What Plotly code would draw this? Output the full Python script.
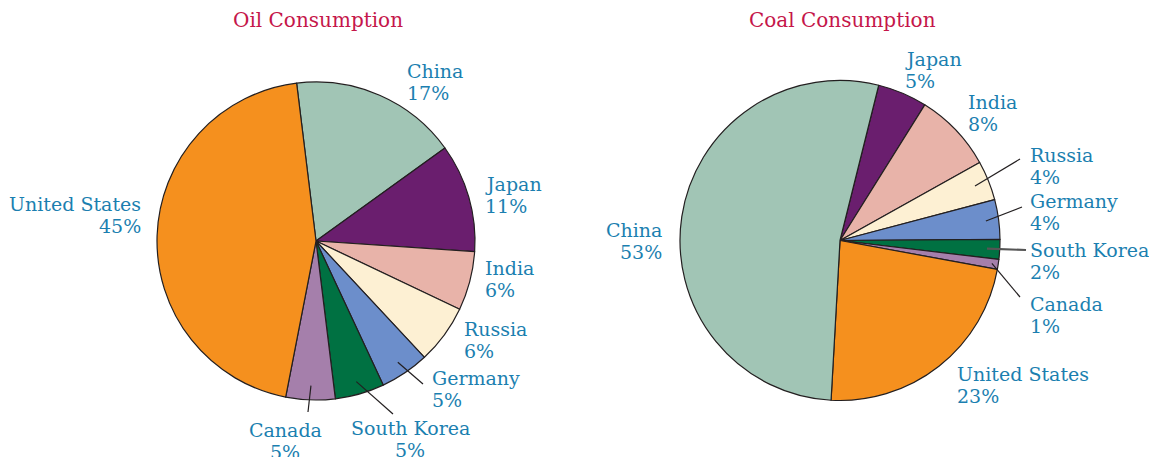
import math
import plotly.graph_objects as go

# ---------------- data ----------------
oil_countries = ["China", "Japan", "India", "Russia", "Germany", "South Korea", "Canada", "United States"]
oil_share = [17, 11, 6, 6, 5, 5, 5, 45]

coal_countries = ["Japan", "India", "Russia", "Germany", "South Korea", "Canada", "United States", "China"]
coal_share = [5, 8, 4, 4, 2, 1, 23, 53]

titles = ["Oil Consumption", "Coal Consumption"]

# ---------------- style ----------------
W, H = 1157, 457
OFF = 8  # page body margin offset
country_colors = {
    "United States": "#f5901e",
    "China": "#a1c5b5",
    "Japan": "#6a1e6e",
    "India": "#e8b3a9",
    "Russia": "#fdf0d3",
    "Germany": "#6c8ecb",
    "South Korea": "#007142",
    "Canada": "#a57fab",
}
LABEL_COLOR = "#1b7fb0"
TITLE_COLOR = "#c5164a"
FONT = "DejaVu Serif"
LINE_GAP = 22

pies = [
    dict(cx=316, cy=241, r=159, rotation=-7),
    dict(cx=840, cy=240.5, r=160, rotation=14),
]

# label placement (pixel): anchor, x, y of first line
oil_label_pos = {
    "China": ("left", 405, 71),
    "Japan": ("left", 483, 184),
    "India": ("left", 483, 268),
    "Russia": ("left", 462, 329),
    "Germany": ("left", 430, 378),
    "South Korea": ("center", 410, 428),
    "Canada": ("center", 285, 430),
    "United States": ("right", 143, 204),
}
coal_label_pos = {
    "Japan": ("left", 903, 59),
    "India": ("left", 966, 102),
    "Russia": ("left", 1028, 155),
    "Germany": ("left", 1028, 201),
    "South Korea": ("left", 1028, 250),
    "Canada": ("left", 1028, 304),
    "United States": ("left", 955, 374),
    "China": ("right", 664, 230),
}
# leader lines: country -> (outer end pixel, inner radius fraction, color, width)
oil_leaders = {
    "Germany": ((423, 384), 0.92, "#231f20", 1.2),
    "South Korea": ((393, 414), 0.92, "#231f20", 1.2),
    "Canada": ((308, 412), 0.91, "#231f20", 1.2),
}
coal_leaders = {
    "Russia": ((1020, 159), 0.91, "#231f20", 1.2),
    "Germany": ((1022, 207), 0.92, "#231f20", 1.2),
    "South Korea": ((1026, 250), 0.92, "#555555", 2.2),
    "Canada": ((1020, 297), 0.96, "#231f20", 1.2),
}


def px(x):
    return (x - OFF) / W


def py(y):
    return 1 - (y - OFF) / H


fig = go.Figure()
annotations = []
shapes = []

datasets = [
    (oil_countries, oil_share, oil_label_pos, oil_leaders),
    (coal_countries, coal_share, coal_label_pos, coal_leaders),
]

for (names, vals, lpos, leaders), geo, title in zip(datasets, pies, titles):
    cx, cy, r = geo["cx"], geo["cy"], geo["r"]
    fig.add_trace(go.Pie(
        labels=names,
        values=vals,
        sort=False,
        direction="clockwise",
        rotation=geo["rotation"],
        textinfo="none",
        hoverinfo="label+percent",
        marker=dict(colors=[country_colors[n] for n in names],
                    line=dict(color="#231f20", width=1.2)),
        domain=dict(x=[px(cx - r), px(cx + r)], y=[py(cy + r), py(cy - r)]),
        showlegend=False,
    ))
    # title
    annotations.append(dict(
        text=title, x=px(cx + 2), y=py(20), xref="paper", yref="paper",
        xanchor="center", yanchor="middle", showarrow=False,
        font=dict(family=FONT, size=20, color=TITLE_COLOR),
    ))
    # labels
    total = sum(vals)
    for n, v in zip(names, vals):
        anchor, lx, ly = lpos[n]
        for i, t in enumerate([n, f"{round(100 * v / total)}%"]):
            annotations.append(dict(
                text=t, x=px(lx), y=py(ly + i * LINE_GAP), xref="paper", yref="paper",
                xanchor=anchor, yanchor="middle", showarrow=False, align=anchor,
                font=dict(family=FONT, size=19, color=LABEL_COLOR),
            ))
    # leader lines from slice mid-angle
    cum = 0
    for n, v in zip(names, vals):
        mid = geo["rotation"] + 360 * (cum + v / 2) / total
        cum += v
        if n in leaders:
            (ox, oy), frac, col, wid = leaders[n]
            a = math.radians(mid)
            ix = cx + frac * r * math.sin(a)
            iy = cy - frac * r * math.cos(a)
            shapes.append(dict(
                type="line", xref="paper", yref="paper",
                x0=px(ix), y0=py(iy), x1=px(ox), y1=py(oy),
                line=dict(color=col, width=wid),
            ))

fig.update_layout(
    width=W, height=H,
    margin=dict(l=0, r=0, t=0, b=0),
    paper_bgcolor="white",
    plot_bgcolor="white",
    annotations=annotations,
    shapes=shapes,
)

fig.write_html("out.html")
